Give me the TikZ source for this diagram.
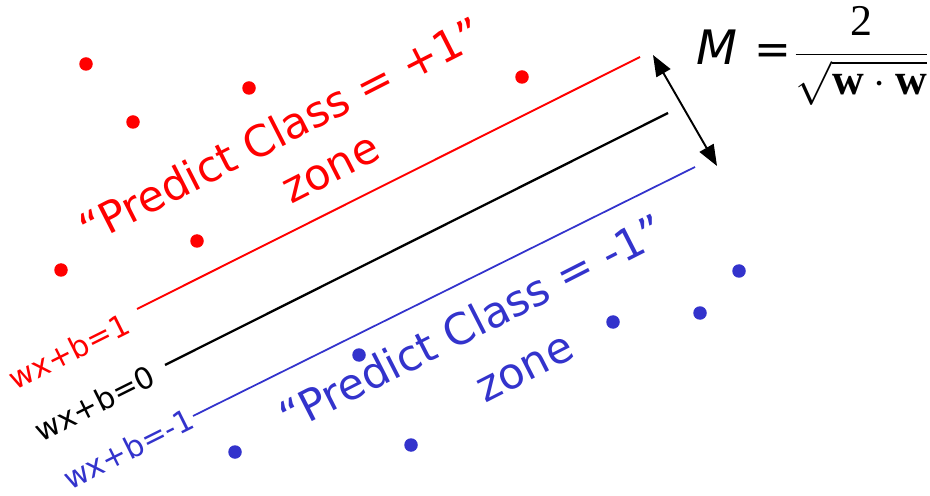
\documentclass[tikz,border=0pt]{standalone}
\usepackage{fontspec}
\setmainfont{DejaVu Sans}
\newfontfamily\serifw{Liberation Serif}
\usetikzlibrary{arrows.meta, positioning}
\definecolor{posred}{RGB}{255, 0, 0}
\definecolor{negblue}{RGB}{51, 51, 204}

\begin{document}
\begin{tikzpicture}[
    dotred/.style={circle, fill=posred, inner sep=0pt, minimum size=0.27cm},
    dotblue/.style={circle, fill=negblue, inner sep=0pt, minimum size=0.27cm},
    zonetext/.style={font=\fontsize{24.5}{28}\selectfont, rotate=27, anchor=base, inner sep=0pt},
    planelabel/.style={font=\fontsize{17}{20}\selectfont, rotate=26.5, anchor=east, inner sep=0pt}
]
    \useasboundingbox (0,0) rectangle (18.6,9.9);

    % Hyperplanes
    \coordinate (pos0) at (2.74, 3.72);
    \coordinate (pos1) at (12.80, 8.76);
    \coordinate (mid0) at (3.30, 2.60);
    \coordinate (mid1) at (13.36, 7.64);
    \coordinate (neg0) at (3.86, 1.58);
    \coordinate (neg1) at (13.90, 6.56);
    \draw[posred, line width=1.1pt] (pos0) -- (pos1);
    \draw[black, line width=1.3pt] (mid0) -- (mid1);
    \draw[negblue, line width=1pt] (neg0) -- (neg1);

    % Plane labels
    \node[planelabel, text=posred] (lpos) at (2.55, 3.46) {wx+b=1};
    \node[planelabel] (lmid) at (3.06, 2.42) {wx+b=0};
    \node[planelabel, text=negblue] (lneg) at (3.83, 1.56) {wx+b=-1};

    % Margin arrow
    \coordinate (mtop) at (13.06, 8.80);
    \coordinate (mbot) at (14.34, 6.58);
    \draw[{Triangle[length=0.42cm, width=0.32cm]}-{Triangle[length=0.42cm, width=0.32cm]}, line width=1.1pt] (mtop) -- (mbot);

    % Margin formula
    \node[anchor=west, inner sep=0pt, font=\fontsize{25}{30}\selectfont] (margin) at (13.92, 8.78)
        {$\displaystyle \hbox{\fontsize{27}{30}\selectfont\itshape M}\mskip7mu \hbox{\fontsize{25}{28}\selectfont =}\mskip1mu \frac{\hbox{\serifw 2}}{\sqrt{\hbox{\serifw\bfseries w}\cdot\hbox{\serifw\bfseries w}}}$};

    % Class +1 points
    \node[dotred] (r1) at (1.72, 8.62) {};
    \node[dotred] (r2) at (2.66, 7.46) {};
    \node[dotred] (r3) at (4.98, 8.14) {};
    \node[dotred] (r4) at (10.44, 8.36) {};
    \node[dotred] (r5) at (3.94, 5.08) {};
    \node[dotred] (r6) at (1.22, 4.50) {};

    % Class -1 points
    \node[dotblue] (b1) at (14.78, 4.48) {};
    \node[dotblue] (b2) at (14.00, 3.64) {};
    \node[dotblue] (b3) at (12.26, 3.46) {};
    \node[dotblue] (b4) at (7.18, 2.80) {};
    \node[dotblue] (b5) at (8.22, 1.00) {};
    \node[dotblue] (b6) at (4.70, 0.86) {};

    % Zone texts
    \node[zonetext, text=posred] (zpos) at (5.76, 7.02) {“Predict Class = +1”};
    \node[zonetext, text=posred] (zposb) at (6.74, 6.28) {zone};
    \node[zonetext, text=negblue] (zneg) at (9.58, 3.16) {“Predict Class = -1”};
    \node[zonetext, text=negblue] (znegb) at (10.62, 2.30) {zone};
\end{tikzpicture}
\end{document}
